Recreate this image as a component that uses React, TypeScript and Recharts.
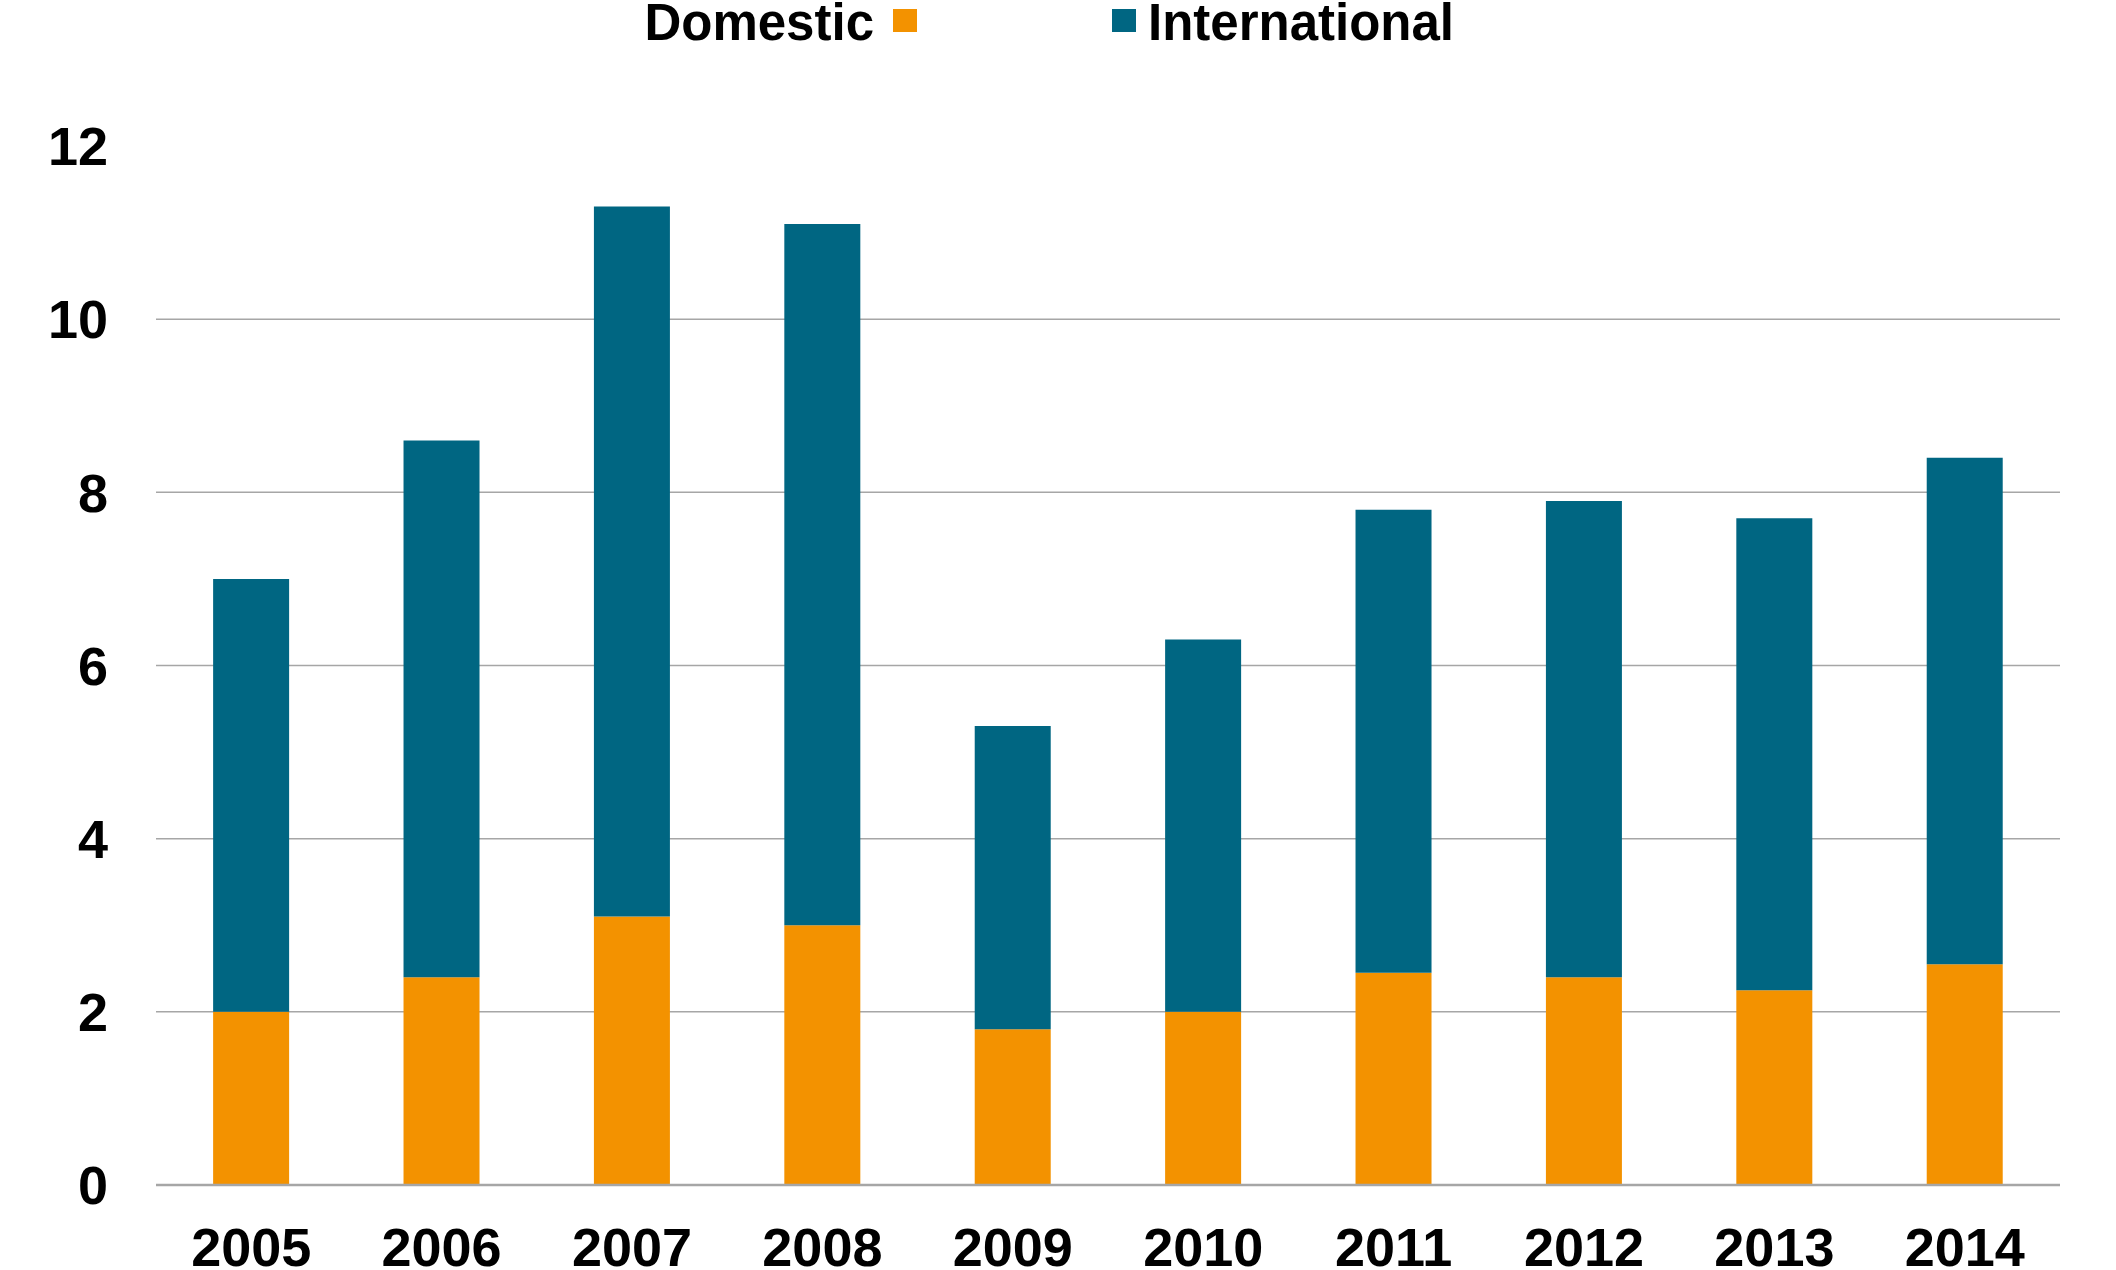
import React from "react";
import { BarChart, Bar, XAxis, YAxis, CartesianGrid } from "recharts";

const years = ["2005", "2006", "2007", "2008", "2009", "2010", "2011", "2012", "2013", "2014"];
const domestic = [2.0, 2.4, 3.1, 3.0, 1.8, 2.0, 2.45, 2.4, 2.25, 2.55];
const international = [5.0, 6.2, 8.2, 8.1, 3.5, 4.3, 5.35, 5.5, 5.45, 5.85];
const yTicks = [0, 2, 4, 6, 8, 10, 12];
const gridValues = [2, 4, 6, 8, 10];

const ORANGE = "#F39200";
const BLUE = "#006682";
const FONT = "'Liberation Sans', Arial, sans-serif";

const data = years.map((year, i) => ({
  year,
  Domestic: domestic[i],
  International: international[i],
}));

const legendText: React.CSSProperties = {
  position: "absolute",
  top: -3,
  fontSize: 51,
  lineHeight: 1,
  fontWeight: "bold",
  color: "#000",
  whiteSpace: "nowrap",
};

const App = () => {
  return (
    <div
      style={{
        position: "absolute",
        left: 0,
        top: 0,
        width: 2116,
        height: 1270,
        background: "#fff",
        fontFamily: FONT,
        overflow: "hidden",
      }}
    >
      {/* legend: text before marker for Domestic, marker before text for International */}
      <div style={{ ...legendText, right: 2116 - 874 }}>Domestic</div>
      <div style={{ position: "absolute", left: 893, top: 9, width: 24, height: 23, background: ORANGE }} />
      <div style={{ position: "absolute", left: 1112, top: 9, width: 24, height: 23, background: BLUE }} />
      <div style={{ ...legendText, left: 1148 }}>International</div>

      <BarChart
        width={2116}
        height={1270}
        data={data}
        margin={{ top: 146, right: 56, bottom: 0, left: 0 }}
        barCategoryGap="30%"
      >
        <CartesianGrid
          vertical={false}
          horizontalValues={gridValues}
          stroke="#A6A6A6"
          strokeWidth={1.5}
        />
        <XAxis
          dataKey="year"
          height={85}
          tickLine={false}
          tickSize={0}
          tickMargin={43}
          axisLine={{ stroke: "#A6A6A6", strokeWidth: 2.5 }}
          tick={{ fill: "#000", fontSize: 54, fontWeight: "bold", fontFamily: FONT }}
        />
        <YAxis
          width={156}
          domain={[0, 12]}
          ticks={yTicks}
          interval={0}
          axisLine={false}
          tickLine={false}
          tickSize={0}
          tickMargin={48}
          tick={{ fill: "#000", fontSize: 54, fontWeight: "bold", fontFamily: FONT }}
        />
        <Bar dataKey="Domestic" stackId="a" fill={ORANGE} isAnimationActive={false} />
        <Bar dataKey="International" stackId="a" fill={BLUE} isAnimationActive={false} />
      </BarChart>
    </div>
  );
};

export default App;
